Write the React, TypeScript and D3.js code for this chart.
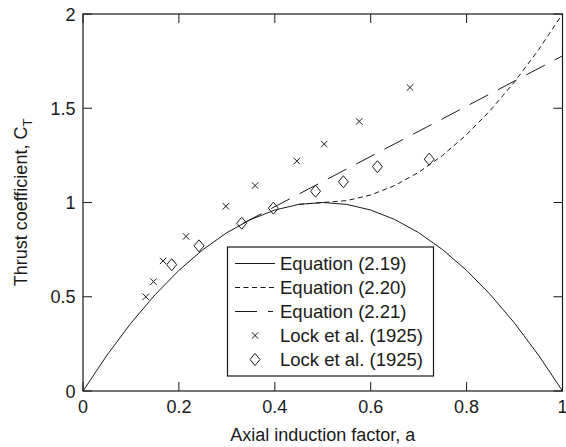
import React from "react";
import * as d3 from "d3";

// Momentum theory, Equation (2.19): C_T = 4a(1-a)
const eq219A = [0, 0.05, 0.1, 0.15, 0.2, 0.25, 0.3, 0.35, 0.4, 0.45, 0.5, 0.55, 0.6, 0.65, 0.7, 0.75, 0.8, 0.85, 0.9, 0.95, 1];
const eq219CT = [0, 0.19, 0.36, 0.51, 0.64, 0.75, 0.84, 0.91, 0.96, 0.99, 1.0, 0.99, 0.96, 0.91, 0.84, 0.75, 0.64, 0.51, 0.36, 0.19, 0];

// Equation (2.20)
const eq220A = [0.45, 0.5, 0.55, 0.6, 0.65, 0.7, 0.75, 0.8, 0.85, 0.9, 0.95, 1];
const eq220CT = [0.99, 1.0, 1.01, 1.04, 1.09, 1.16, 1.25, 1.36, 1.49, 1.64, 1.81, 2.0];

// Equation (2.21), linear beyond a = 1/3
const eq221A = [0.3333, 1];
const eq221CT = [0.8889, 1.7778];

// Lock et al. (1925) measurements
const lockCrossA = [0.131, 0.147, 0.167, 0.215, 0.298, 0.359, 0.446, 0.503, 0.576, 0.682];
const lockCrossCT = [0.5, 0.58, 0.69, 0.82, 0.98, 1.09, 1.22, 1.31, 1.43, 1.61];
const lockDiamondA = [0.185, 0.242, 0.331, 0.397, 0.485, 0.543, 0.614, 0.722];
const lockDiamondCT = [0.67, 0.77, 0.89, 0.97, 1.06, 1.11, 1.19, 1.23];

const xTicks = [0, 0.2, 0.4, 0.6, 0.8, 1];
const xTickLabels = ["0", "0.2", "0.4", "0.6", "0.8", "1"];
const yTicks = [0, 0.5, 1, 1.5, 2];
const yTickLabels = ["0", "0.5", "1", "1.5", "2"];

const legendLabels = [
  "Equation (2.19)",
  "Equation (2.20)",
  "Equation (2.21)",
  "Lock et al. (1925)",
  "Lock et al. (1925)",
];

const W = 566;
const H = 447;
const L = 83;
const R = 562.5;
const T = 14;
const B = 391;
const FONT = "'Liberation Sans', Arial, Helvetica, sans-serif";
const INK = "#1a1a1a";

export default function App() {
  const x = d3.scaleLinear().domain([0, 1]).range([L, R]);
  const y = d3.scaleLinear().domain([0, 2]).range([B, T]);
  const line = d3
    .line<[number, number]>()
    .x((d) => x(d[0]))
    .y((d) => y(d[1]));
  const zip = (a: number[], b: number[]) => a.map((v, i) => [v, b[i]] as [number, number]);

  const tickLen = 9;
  const cross = (cx: number, cy: number, s: number) =>
    `M${cx - s},${cy - s}L${cx + s},${cy + s}M${cx - s},${cy + s}L${cx + s},${cy - s}`;
  const diamond = (cx: number, cy: number, w: number, h: number) =>
    `M${cx},${cy - h}L${cx + w},${cy}L${cx},${cy + h}L${cx - w},${cy}Z`;

  const lgX = 227.5;
  const lgY = 247;
  const lgW = 206;
  const lgH = 129;
  const rowY = (i: number) => lgY + 16.5 + i * 24;
  const lineX0 = lgX + 7.5;
  const lineX1 = lgX + 47.5;
  const textX = lgX + 52.5;

  return (
    <svg
      width={W}
      height={H}
      style={{ position: "absolute", left: 0, top: 0, background: "#fff" }}
      fontFamily={FONT}
    >
      <rect x={0} y={0} width={W} height={H} fill="#fff" />

      {/* curves */}
      <path d={line(zip(eq219A, eq219CT)) || ""} fill="none" stroke={INK} strokeWidth={1} />
      <path
        d={line(zip(eq220A, eq220CT)) || ""}
        fill="none"
        stroke={INK}
        strokeWidth={1}
        strokeDasharray="5,3.5"
      />
      <path
        d={line(zip(eq221A, eq221CT)) || ""}
        fill="none"
        stroke={INK}
        strokeWidth={1}
        strokeDasharray="21,11"
      />

      {/* measurements */}
      {lockCrossA.map((a, i) => (
        <path key={"c" + i} d={cross(x(a), y(lockCrossCT[i]), 3.2)} stroke={INK} strokeWidth={1} fill="none" />
      ))}
      {lockDiamondA.map((a, i) => (
        <path
          key={"d" + i}
          d={diamond(x(a), y(lockDiamondCT[i]), 5, 6)}
          stroke={INK}
          strokeWidth={1}
          fill="none"
        />
      ))}

      {/* frame and ticks */}
      <rect x={L} y={T} width={R - L} height={B - T} fill="none" stroke={INK} strokeWidth={1.2} />
      {xTicks.map((t) => (
        <g key={"xt" + t}>
          <line x1={x(t)} x2={x(t)} y1={B} y2={B - tickLen} stroke={INK} strokeWidth={1} />
          <line x1={x(t)} x2={x(t)} y1={T} y2={T + tickLen} stroke={INK} strokeWidth={1} />
        </g>
      ))}
      {yTicks.map((t) => (
        <g key={"yt" + t}>
          <line x1={L} x2={L + tickLen} y1={y(t)} y2={y(t)} stroke={INK} strokeWidth={1} />
          <line x1={R} x2={R - tickLen} y1={y(t)} y2={y(t)} stroke={INK} strokeWidth={1} />
        </g>
      ))}

      {/* tick labels */}
      {xTicks.map((t, i) => (
        <text key={"xl" + t} x={x(t)} y={413} fontSize={18} textAnchor="middle" fill={INK}>
          {xTickLabels[i]}
        </text>
      ))}
      {yTicks.map((t, i) => (
        <text key={"yl" + t} x={75.5} y={y(t) + 6.5} fontSize={18} textAnchor="end" fill={INK}>
          {yTickLabels[i]}
        </text>
      ))}

      {/* axis titles */}
      <text x={(L + R) / 2} y={441} fontSize={18} textAnchor="middle" fill={INK}>
        Axial induction factor, a
      </text>
      <text transform={`translate(27,${(T + B) / 2}) rotate(-90)`} fontSize={18} textAnchor="middle" fill={INK}>
        Thrust coefficient, C
        <tspan fontSize={13} dy={5}>
          T
        </tspan>
      </text>

      {/* legend */}
      <rect x={lgX} y={lgY} width={lgW} height={lgH} fill="#fff" stroke={INK} strokeWidth={1.2} />
      <line x1={lineX0} x2={lineX1} y1={rowY(0)} y2={rowY(0)} stroke={INK} strokeWidth={1} />
      <line
        x1={lineX0}
        x2={lineX1}
        y1={rowY(1)}
        y2={rowY(1)}
        stroke={INK}
        strokeWidth={1}
        strokeDasharray="5,3.5"
      />
      <line
        x1={lineX0}
        x2={lineX1 - 2}
        y1={rowY(2)}
        y2={rowY(2)}
        stroke={INK}
        strokeWidth={1}
        strokeDasharray="22,11"
      />
      <path d={cross((lineX0 + lineX1) / 2, rowY(3), 3.2)} stroke={INK} strokeWidth={1} fill="none" />
      <path d={diamond((lineX0 + lineX1) / 2, rowY(4), 5, 6)} stroke={INK} strokeWidth={1} fill="none" />
      {legendLabels.map((s, i) => (
        <text key={"lg" + i} x={textX} y={rowY(i) + 6.5} fontSize={18.5} fill={INK}>
          {s}
        </text>
      ))}
    </svg>
  );
}
